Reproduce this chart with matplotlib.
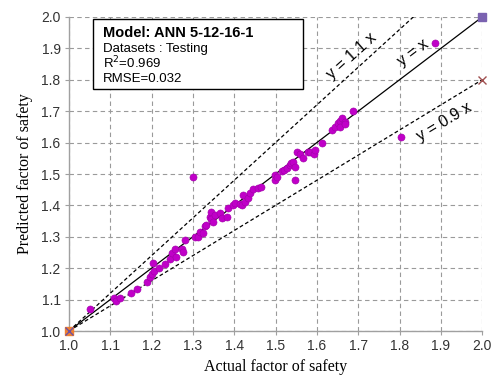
import matplotlib
matplotlib.use("Agg")
import matplotlib.pyplot as plt

actual = [1.051, 1.110, 1.113, 1.123, 1.150, 1.164, 1.188, 1.196, 1.203, 1.202,
          1.207, 1.219, 1.232, 1.245, 1.250, 1.260, 1.257, 1.273, 1.275, 1.281,
          1.300, 1.305, 1.313, 1.317, 1.325, 1.329, 1.332, 1.341, 1.344, 1.345,
          1.348, 1.353, 1.366, 1.370, 1.382, 1.386, 1.398, 1.402, 1.414, 1.418,
          1.422, 1.426, 1.434, 1.438, 1.446, 1.458, 1.466, 1.499, 1.499, 1.503,
          1.515, 1.520, 1.527, 1.535, 1.538, 1.543, 1.547, 1.547, 1.553, 1.560,
          1.567, 1.579, 1.584, 1.592, 1.596, 1.612, 1.636, 1.644, 1.652, 1.655,
          1.656, 1.660, 1.668, 1.668, 1.688, 1.804, 1.886]
predicted = [1.070, 1.104, 1.096, 1.106, 1.120, 1.134, 1.155, 1.173, 1.216, 1.182,
             1.190, 1.202, 1.212, 1.229, 1.247, 1.237, 1.260, 1.260, 1.253, 1.290,
             1.490, 1.300, 1.300, 1.316, 1.311, 1.334, 1.338, 1.364, 1.380, 1.356,
             1.348, 1.369, 1.375, 1.359, 1.364, 1.391, 1.401, 1.407, 1.404, 1.401,
             1.433, 1.412, 1.422, 1.438, 1.451, 1.454, 1.460, 1.497, 1.481, 1.490,
             1.508, 1.513, 1.518, 1.529, 1.534, 1.539, 1.523, 1.481, 1.571, 1.565,
             1.550, 1.571, 1.571, 1.564, 1.576, 1.598, 1.640, 1.651, 1.661, 1.670,
             1.651, 1.677, 1.667, 1.659, 1.700, 1.618, 1.917]

line_x = [1.0, 2.0]
line_equal = [1.0, 2.0]
line_upper = [1.0, 2.2]
line_lower = [1.0, 1.8]

ticks = [1.0, 1.1, 1.2, 1.3, 1.4, 1.5, 1.6, 1.7, 1.8, 1.9, 2.0]
tick_labels = ["1.0", "1.1", "1.2", "1.3", "1.4", "1.5", "1.6", "1.7", "1.8", "1.9", "2.0"]

fig = plt.figure(figsize=(4.92, 3.82), dpi=100)
ax = fig.add_axes([0.140, 0.1335, 0.840, 0.822])

ax.set_xlim(1.0, 2.0)
ax.set_ylim(1.0, 2.0)
ax.set_xticks(ticks)
ax.set_yticks(ticks)
ax.set_xticklabels(tick_labels, fontfamily="Liberation Sans", fontsize=10, color="#333333")
ax.set_yticklabels(tick_labels, fontfamily="Liberation Sans", fontsize=10, color="#333333")
ax.grid(True, linestyle=(0, (4, 3)), color="#9a9a9a", linewidth=0.8)
ax.set_axisbelow(True)
for s in ["top", "right"]:
    ax.spines[s].set_visible(False)
for s in ["left", "bottom"]:
    ax.spines[s].set_color("#a0a0a0")
    ax.spines[s].set_linewidth(1.0)
ax.tick_params(axis="both", direction="out", length=3, color="#a0a0a0", pad=3)

ax.plot(line_x, line_equal, color="black", linewidth=0.9, zorder=3)
ax.plot(line_x, line_upper, color="black", linewidth=0.9, linestyle=(0, (3, 2)), zorder=3)
ax.plot(line_x, line_lower, color="black", linewidth=0.9, linestyle=(0, (3, 2)), zorder=3)

ax.scatter(actual, predicted, s=26, color="#c000c8", edgecolor="#a000a8", linewidth=0.4, zorder=4, clip_on=False)

ax.plot([1.0], [1.0], marker="s", markersize=6, color="#f08030", linestyle="none", zorder=5, clip_on=False)
ax.plot([1.0], [1.0], marker="x", markersize=6, color="#7050a0", linestyle="none", zorder=6, clip_on=False)
ax.plot([2.0], [2.0], marker="s", markersize=6, color="#7a62b0", linestyle="none", zorder=5, clip_on=False)
ax.plot([2.0], [1.8], marker="x", markersize=6, color="#a05050", linestyle="none", zorder=5, clip_on=False)

ax.text(1.685, 1.876, "y = 1.1 x", rotation=42, fontsize=11.5, fontfamily="Liberation Sans",
        ha="center", va="center", rotation_mode="anchor", zorder=5)
ax.text(1.833, 1.885, "y = x", rotation=37, fontsize=11.5, fontfamily="Liberation Sans",
        ha="center", va="center", rotation_mode="anchor", zorder=5)
ax.text(1.908, 1.666, "y = 0.9 x", rotation=31, fontsize=11.5, fontfamily="Liberation Sans",
        ha="center", va="center", rotation_mode="anchor", zorder=5)

box = plt.Rectangle((0.058, 0.771), 0.509, 0.223, transform=ax.transAxes, facecolor="white",
                    edgecolor="black", linewidth=1.0, zorder=6)
ax.add_patch(box)
ax.text(0.082, 0.949, "Model: ANN 5-12-16-1", transform=ax.transAxes, fontsize=10.5,
        fontweight="bold", fontfamily="Liberation Sans", ha="left", va="center", zorder=7)
ax.text(0.082, 0.898, "Datasets : Testing", transform=ax.transAxes, fontsize=9.5,
        fontfamily="Liberation Sans", ha="left", va="center", zorder=7)
ax.text(0.082, 0.854, "R$^2$=0.969", transform=ax.transAxes, fontsize=9.5,
        fontfamily="Liberation Sans", ha="left", va="center", zorder=7)
ax.text(0.082, 0.803, "RMSE=0.032", transform=ax.transAxes, fontsize=9.5,
        fontfamily="Liberation Sans", ha="left", va="center", zorder=7)

ax.set_xlabel("Actual factor of safety", fontfamily="Liberation Serif", fontsize=11.5, labelpad=4)
ax.set_ylabel("Predicted factor of safety", fontfamily="Liberation Serif", fontsize=11.5, labelpad=6)

fig.savefig("out.png", dpi=100)
